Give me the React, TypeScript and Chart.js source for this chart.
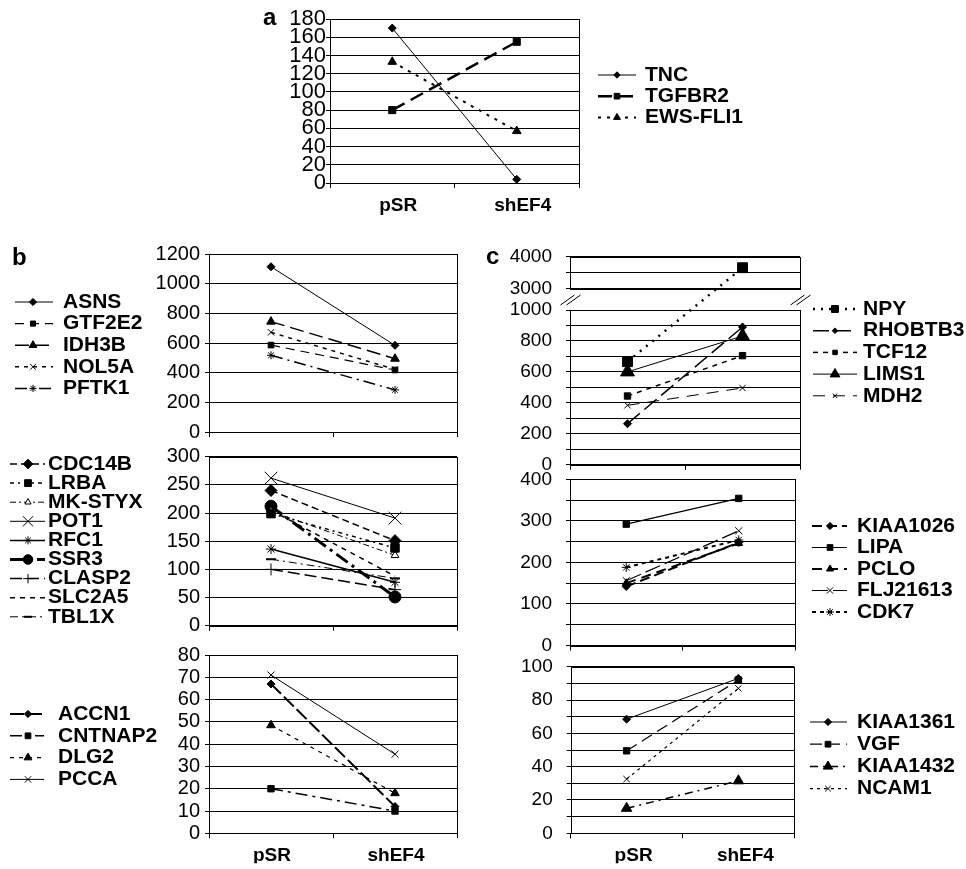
import React, { useEffect, useRef } from 'react';
import { Chart, registerables, LinearScale } from 'chart.js';

Chart.register(...registerables);

const W = 966;
const H = 869;
const FONT = "'Liberation Sans', Arial, Helvetica, sans-serif";

// ---------------- data ----------------
const CATEGORIES = ['pSR', 'shEF4'];

// panel a
const TNC = [170, 4];
const TGFBR2 = [80, 155];
const EWS_FLI1 = [133, 57];

// panel b (top)
const ASNS = [1114, 584];
const GTF2E2 = [586, 418];
const IDH3B = [744, 494];
const NOL5A = [672, 422];
const PFTK1 = [517, 284];

// panel b (middle)
const CDC14B = [240, 151];
const LRBA = [199, 138];
const MK_STYX = [203, 125];
const POT1 = [262, 191];
const RFC1 = [136, 77];
const SSR3 = [212, 51];
const CLASP2 = [100, 64];
const SLC2A5 = [205, 88];
const TBL1X = [118, 84];

// panel b (bottom)
const ACCN1 = [67, 12];
const CNTNAP2 = [20, 10];
const DLG2 = [48.5, 18];
const PCCA = [71, 35.5];

// panel c (top, broken axis)
const NPY = [666, 3650];
const RHOBTB3 = [265, 890];
const TCF12 = [444, 705];
const LIMS1 = [600, 832];
const MDH2 = [384, 496];

// panel c (middle)
const KIAA1026 = [142, 248];
const LIPA = [292, 354];
const PCLO = [150, 246];
const FLJ21613 = [156, 276];
const CDK7 = [188, 254];

// panel c (bottom)
const KIAA1361 = [68.5, 93];
const VGF = [49.5, 92];
const KIAA1432 = [15, 31.5];
const NCAM1 = [32.5, 87];

// tick values / labels
const C1_TICK_VALUES = [0, 100, 200, 300, 400, 500, 600, 700, 800, 900, 1000, 3000, 3500, 4000];
const C1_TICK_LABELS = [0, 200, 400, 600, 800, 1000, 3000, 4000];
const C2_TICK_LABELS = [0, 100, 200, 300, 400];
const C3_TICK_LABELS = [0, 20, 40, 60, 80, 100];

// ---------------- broken linear scale ----------------
class BrokenScale extends LinearScale {
  getPixelForValue(value: number) {
    const o: any = (this.options as any).brk;
    const top = this.top;
    const bottom = this.bottom;
    const h = bottom - top;
    const yHiBot = top + h * o.hiFrac;
    const yLoTop = top + h * o.loFrac;
    if (value >= o.hiMin) return top + ((o.max - value) / (o.max - o.hiMin)) * (yHiBot - top);
    if (value <= o.loMax) return yLoTop + ((o.loMax - value) / (o.loMax - o.min)) * (bottom - yLoTop);
    return yLoTop + ((value - o.loMax) / (o.hiMin - o.loMax)) * (yHiBot - yLoTop);
  }
  getValueForPixel(pixel: number) {
    const o: any = (this.options as any).brk;
    const top = this.top;
    const bottom = this.bottom;
    const h = bottom - top;
    const yHiBot = top + h * o.hiFrac;
    const yLoTop = top + h * o.loFrac;
    if (pixel <= yHiBot) return o.max - ((pixel - top) / (yHiBot - top)) * (o.max - o.hiMin);
    if (pixel >= yLoTop) return o.loMax - ((pixel - yLoTop) / (bottom - yLoTop)) * (o.loMax - o.min);
    return o.loMax + ((yLoTop - pixel) / (yLoTop - yHiBot)) * (o.hiMin - o.loMax);
  }
}
(BrokenScale as any).id = 'brokenLinear';
(BrokenScale as any).defaults = { ticks: { callback: (v: any) => String(v) } };
Chart.register(BrokenScale as any);

// ---------------- marker drawing (legend) ----------------
function drawMarker(ctx: CanvasRenderingContext2D, style: string, x: number, y: number, r: number, fill: string, lw: number) {
  if (!r || r <= 0) return;
  ctx.save();
  ctx.setLineDash([]);
  ctx.lineWidth = lw;
  ctx.strokeStyle = '#000';
  ctx.fillStyle = fill;
  ctx.beginPath();
  const s = r * Math.SQRT1_2;
  switch (style) {
    case 'circle':
      ctx.arc(x, y, r, 0, Math.PI * 2);
      ctx.fill();
      ctx.stroke();
      break;
    case 'rect':
      ctx.rect(x - s, y - s, 2 * s, 2 * s);
      ctx.fill();
      ctx.stroke();
      break;
    case 'rectRot':
      ctx.moveTo(x, y - r);
      ctx.lineTo(x + r, y);
      ctx.lineTo(x, y + r);
      ctx.lineTo(x - r, y);
      ctx.closePath();
      ctx.fill();
      ctx.stroke();
      break;
    case 'triangle': {
      const a = (2 * Math.PI) / 3;
      ctx.moveTo(x, y - r);
      ctx.lineTo(x + Math.sin(a) * r, y - Math.cos(a) * r);
      ctx.lineTo(x + Math.sin(2 * a) * r, y - Math.cos(2 * a) * r);
      ctx.closePath();
      ctx.fill();
      ctx.stroke();
      break;
    }
    case 'crossRot':
      ctx.moveTo(x - s, y - s);
      ctx.lineTo(x + s, y + s);
      ctx.moveTo(x + s, y - s);
      ctx.lineTo(x - s, y + s);
      ctx.stroke();
      break;
    case 'cross':
      ctx.moveTo(x, y - r);
      ctx.lineTo(x, y + r);
      ctx.moveTo(x - r, y);
      ctx.lineTo(x + r, y);
      ctx.stroke();
      break;
    case 'star':
      ctx.moveTo(x, y - r);
      ctx.lineTo(x, y + r);
      ctx.moveTo(x - r, y);
      ctx.lineTo(x + r, y);
      ctx.moveTo(x - s, y - s);
      ctx.lineTo(x + s, y + s);
      ctx.moveTo(x + s, y - s);
      ctx.lineTo(x - s, y + s);
      ctx.stroke();
      break;
    case 'line':
      ctx.moveTo(x - r, y);
      ctx.lineTo(x + r, y);
      ctx.stroke();
      break;
    default:
      break;
  }
  ctx.restore();
}

// ---------------- decoration plugin: box, legend, letters ----------------
const decoPlugin = {
  id: 'panelDeco',
  afterDatasetsDraw(chart: any, _args: any, opts: any) {
    const ctx: CanvasRenderingContext2D = chart.ctx;
    const a = chart.chartArea;
    ctx.save();
    ctx.strokeStyle = '#000';
    ctx.lineWidth = 1;
    ctx.setLineDash([]);
    const L = Math.round(a.left) + 0.5;
    const R = Math.round(a.right) + 0.5;
    const T = Math.round(a.top) + 0.5;
    const B = Math.round(a.bottom) + 0.5;
    if (opts.broken) {
      const ys = chart.scales.y;
      const yHi = Math.round(ys.getPixelForValue(opts.hiMin)) + 0.5;
      const yLo = Math.round(ys.getPixelForValue(opts.loMax)) + 0.5;
      ctx.strokeRect(L, T, R - L, yHi - T);
      ctx.strokeRect(L, yLo, R - L, B - yLo);
      const yb = (yHi + yLo) / 2;
      for (const bx of [L, R]) {
        for (const dx of [-3, 3]) {
          ctx.beginPath();
          ctx.moveTo(bx + dx - 7, yb + 5);
          ctx.lineTo(bx + dx + 7, yb - 5);
          ctx.stroke();
        }
      }
    } else {
      ctx.strokeRect(L, T, R - L, B - T);
    }
    const lg = opts.legend;
    if (lg) {
      chart.data.datasets.forEach((ds: any, i: number) => {
        const y = lg.y0 + i * lg.dy;
        ctx.save();
        ctx.strokeStyle = '#000';
        ctx.lineWidth = ds.borderWidth;
        ctx.setLineDash(ds.borderDash || []);
        ctx.beginPath();
        ctx.moveTo(lg.x1, y);
        ctx.lineTo(lg.x2, y);
        ctx.stroke();
        ctx.restore();
        drawMarker(ctx, ds.pointStyle, lg.xm, y, ds.pointRadius * lg.scale, ds.pointBackgroundColor, ds.pointBorderWidth);
        ctx.fillStyle = '#000';
        ctx.font = `bold ${lg.size}px ${FONT}`;
        ctx.textBaseline = 'middle';
        ctx.textAlign = 'left';
        ctx.fillText(ds.label, lg.xt, y);
      });
    }
    (opts.texts || []).forEach((t: any) => {
      ctx.fillStyle = '#000';
      ctx.font = `bold ${t.size}px ${FONT}`;
      ctx.textBaseline = 'alphabetic';
      ctx.textAlign = 'left';
      ctx.fillText(t.t, t.x, t.y);
    });
    ctx.restore();
  },
};

// ---------------- panel definitions ----------------
type SeriesDef = { label: string; data: number[]; style: string; r: number; dash: number[]; w: number; fill?: string; pw?: number };
type PanelDef = {
  area: { l: number; t: number; r: number; b: number };
  y: { min: number; max: number; step: number; font: number; pad: number; labels?: number[]; values?: number[]; broken?: any };
  xLabels: boolean;
  xPad: number;
  xShift: number;
  xh: number;
  legend: { x1: number; x2: number; xm: number; xt: number; y0: number; dy: number; size: number; scale: number };
  texts?: { t: string; x: number; y: number; size: number }[];
  series: SeriesDef[];
};

const LEG_SIZE = 21;

const PANELS: PanelDef[] = [
  {
    area: { l: 330, t: 19, r: 579, b: 183 },
    y: { min: 0, max: 180, step: 20, font: 22, pad: 0 },
    xLabels: true, xPad: 6, xShift: 6, xh: 36,
    legend: { x1: 598, x2: 636, xm: 617, xt: 645, y0: 75, dy: 21.2, size: LEG_SIZE, scale: 0.8 },
    texts: [{ t: 'a', x: 263, y: 25, size: 24 }],
    series: [
      { label: 'TNC', data: TNC, style: 'rectRot', r: 4, dash: [], w: 1 },
      { label: 'TGFBR2', data: TGFBR2, style: 'rect', r: 5, dash: [14, 7], w: 2.5 },
      { label: 'EWS-FLI1', data: EWS_FLI1, style: 'triangle', r: 5, dash: [3, 6], w: 2 },
    ],
  },
  {
    area: { l: 209, t: 254, r: 457, b: 432 },
    y: { min: 0, max: 1200, step: 200, font: 20, pad: 5 },
    xLabels: false, xPad: 0, xShift: 0, xh: 8,
    legend: { x1: 15, x2: 53, xm: 33, xt: 63, y0: 302, dy: 21.6, size: LEG_SIZE, scale: 0.9 },
    texts: [{ t: 'b', x: 12, y: 265, size: 24 }],
    series: [
      { label: 'ASNS', data: ASNS, style: 'rectRot', r: 4, dash: [], w: 1 },
      { label: 'GTF2E2', data: GTF2E2, style: 'rect', r: 4, dash: [9, 6], w: 1.2 },
      { label: 'IDH3B', data: IDH3B, style: 'triangle', r: 5, dash: [14, 6], w: 1.5 },
      { label: 'NOL5A', data: NOL5A, style: 'crossRot', r: 4.5, dash: [4, 5], w: 1.5 },
      { label: 'PFTK1', data: PFTK1, style: 'star', r: 4, dash: [12, 5, 2, 5], w: 1.5 },
    ],
  },
  {
    area: { l: 209, t: 456.7, r: 457, b: 625.7 },
    y: { min: 0, max: 300, step: 50, font: 20, pad: 5 },
    xLabels: false, xPad: 0, xShift: 0, xh: 8,
    legend: { x1: 10, x2: 45, xm: 28, xt: 48, y0: 464, dy: 19.1, size: LEG_SIZE, scale: 0.8 },
    series: [
      { label: 'CDC14B', data: CDC14B, style: 'rectRot', r: 6, dash: [7, 4], w: 1.5 },
      { label: 'LRBA', data: LRBA, style: 'rect', r: 6, dash: [4, 4, 2, 4], w: 1.5 },
      { label: 'MK-STYX', data: MK_STYX, style: 'triangle', r: 4.5, dash: [6, 3, 2, 3], w: 1, fill: '#fff' },
      { label: 'POT1', data: POT1, style: 'crossRot', r: 9, dash: [], w: 1 },
      { label: 'RFC1', data: RFC1, style: 'star', r: 5, dash: [], w: 1.5 },
      { label: 'SSR3', data: SSR3, style: 'circle', r: 6, dash: [14, 5, 3, 5], w: 3 },
      { label: 'CLASP2', data: CLASP2, style: 'cross', r: 6, dash: [12, 5], w: 1.5 },
      { label: 'SLC2A5', data: SLC2A5, style: 'circle', r: 0, dash: [5, 5], w: 1.5 },
      { label: 'TBL1X', data: TBL1X, style: 'line', r: 5, dash: [8, 4, 2, 4], w: 1, pw: 2 },
    ],
  },
  {
    area: { l: 209, t: 655, r: 457, b: 833.3 },
    y: { min: 0, max: 80, step: 10, font: 20, pad: 5 },
    xLabels: true, xPad: 6, xShift: 1, xh: 30,
    legend: { x1: 10, x2: 44, xm: 28, xt: 58, y0: 714, dy: 21.8, size: LEG_SIZE, scale: 0.9 },
    series: [
      { label: 'ACCN1', data: ACCN1, style: 'rectRot', r: 4, dash: [14, 4], w: 2 },
      { label: 'CNTNAP2', data: CNTNAP2, style: 'rect', r: 4.5, dash: [12, 5, 3, 5], w: 1.5 },
      { label: 'DLG2', data: DLG2, style: 'triangle', r: 5, dash: [4, 5], w: 1.2 },
      { label: 'PCCA', data: PCCA, style: 'crossRot', r: 5, dash: [], w: 1 },
    ],
  },
  {
    area: { l: 570, t: 256.5, r: 800, b: 464.7 },
    y: {
      min: 0, max: 4000, step: 500, font: 19, pad: 14, labels: C1_TICK_LABELS, values: C1_TICK_VALUES,
      broken: { min: 0, max: 4000, loMax: 1000, hiMin: 3000, hiFrac: 0.1537, loFrac: 0.257 },
    },
    xLabels: false, xPad: 0, xShift: 0, xh: 8,
    legend: { x1: 813, x2: 857, xm: 835, xt: 863, y0: 309, dy: 21.7, size: LEG_SIZE, scale: 0.7 },
    texts: [{ t: 'c', x: 486, y: 264, size: 24 }],
    series: [
      { label: 'NPY', data: NPY, style: 'rect', r: 7, dash: [2, 6], w: 2.5 },
      { label: 'RHOBTB3', data: RHOBTB3, style: 'rectRot', r: 4, dash: [16, 6], w: 1.5 },
      { label: 'TCF12', data: TCF12, style: 'rect', r: 4.5, dash: [5, 5], w: 1.5 },
      { label: 'LIMS1', data: LIMS1, style: 'triangle', r: 8, dash: [], w: 1 },
      { label: 'MDH2', data: MDH2, style: 'crossRot', r: 4.5, dash: [12, 8], w: 1 },
    ],
  },
  {
    area: { l: 570, t: 479.3, r: 795, b: 645.5 },
    y: { min: 0, max: 400, step: 50, font: 19, pad: 14, labels: C2_TICK_LABELS },
    xLabels: false, xPad: 0, xShift: 0, xh: 8,
    legend: { x1: 812, x2: 847, xm: 830, xt: 857, y0: 526, dy: 21.5, size: LEG_SIZE, scale: 0.9 },
    series: [
      { label: 'KIAA1026', data: KIAA1026, style: 'rectRot', r: 4, dash: [10, 5], w: 2 },
      { label: 'LIPA', data: LIPA, style: 'rect', r: 4.5, dash: [], w: 1.2 },
      { label: 'PCLO', data: PCLO, style: 'triangle', r: 4.5, dash: [10, 6], w: 2 },
      { label: 'FLJ21613', data: FLJ21613, style: 'crossRot', r: 5, dash: [16, 5], w: 1.2 },
      { label: 'CDK7', data: CDK7, style: 'star', r: 4.5, dash: [4, 4], w: 2 },
    ],
  },
  {
    area: { l: 570.7, t: 666.7, r: 794.3, b: 833.3 },
    y: { min: 0, max: 100, step: 10, font: 19, pad: 14, labels: C3_TICK_LABELS },
    xLabels: true, xPad: 6, xShift: 7, xh: 30,
    legend: { x1: 810, x2: 847, xm: 828, xt: 857, y0: 722, dy: 22.2, size: LEG_SIZE, scale: 0.9 },
    series: [
      { label: 'KIAA1361', data: KIAA1361, style: 'rectRot', r: 4, dash: [], w: 1 },
      { label: 'VGF', data: VGF, style: 'rect', r: 4.5, dash: [12, 6], w: 1.2 },
      { label: 'KIAA1432', data: KIAA1432, style: 'triangle', r: 6, dash: [8, 5, 2, 5], w: 1.5 },
      { label: 'NCAM1', data: NCAM1, style: 'crossRot', r: 4.5, dash: [3, 4], w: 1.2 },
    ],
  },
];

const Y_AXIS_W = 60;
const Y_TICK_LEN = 4;

function buildConfig(p: PanelDef): any {
  const yOpts: any = {
    type: p.y.broken ? 'brokenLinear' : 'linear',
    min: p.y.min,
    max: p.y.max,
    ticks: {
      stepSize: p.y.step,
      autoSkip: false,
      color: '#000',
      padding: p.y.pad,
      font: { family: FONT, size: p.y.font, weight: 'normal' },
      callback: (v: any) => (p.y.labels ? (p.y.labels.includes(Number(v)) ? String(v) : '') : String(v)),
    },
    grid: { color: '#000', lineWidth: 1, drawTicks: true, tickLength: Y_TICK_LEN, drawOnChartArea: true },
    border: { display: false },
    afterFit: (s: any) => {
      s.width = Y_AXIS_W;
    },
  };
  if (p.y.values) {
    const vals = p.y.values;
    yOpts.afterBuildTicks = (s: any) => {
      s.ticks = vals.map((v) => ({ value: v }));
    };
  }
  if (p.y.broken) yOpts.brk = p.y.broken;

  return {
    type: 'line',
    data: {
      labels: CATEGORIES,
      datasets: p.series.map((s) => ({
        label: s.label,
        data: s.data,
        borderColor: '#000',
        borderWidth: s.w,
        borderDash: s.dash,
        pointStyle: s.style,
        pointRadius: s.r,
        pointHoverRadius: s.r,
        pointBackgroundColor: s.fill ?? '#000',
        pointBorderColor: '#000',
        pointBorderWidth: s.pw ?? 1,
        fill: false,
        tension: 0,
        clip: false,
      })),
    },
    options: {
      responsive: false,
      animation: false,
      devicePixelRatio: 1,
      events: [],
      layout: {
        padding: {
          left: p.area.l - Y_AXIS_W,
          top: p.area.t,
          right: W - p.area.r,
          bottom: Math.max(0, H - p.area.b - p.xh),
        },
      },
      plugins: {
        legend: { display: false },
        tooltip: { enabled: false },
        panelDeco: {
          broken: !!p.y.broken,
          hiMin: p.y.broken ? p.y.broken.hiMin : 0,
          loMax: p.y.broken ? p.y.broken.loMax : 0,
          legend: p.legend,
          texts: p.texts || [],
        },
      },
      scales: {
        x: {
          type: 'category',
          offset: true,
          grid: { offset: true, drawOnChartArea: false, drawTicks: true, tickLength: 5, color: '#000', lineWidth: 1 },
          border: { display: false },
          ticks: {
            display: p.xLabels,
            color: '#000',
            padding: p.xPad,
            labelOffset: p.xShift,
            maxRotation: 0,
            autoSkip: false,
            font: { family: FONT, size: 19, weight: 'bold' },
          },
          afterFit: (s: any) => {
            s.height = p.xh;
          },
        },
        y: yOpts,
      },
    },
    plugins: [decoPlugin],
  };
}

function PanelCanvas({ def }: { def: PanelDef }) {
  const ref = useRef<HTMLCanvasElement>(null);
  useEffect(() => {
    if (!ref.current) return;
    const chart = new Chart(ref.current, buildConfig(def));
    return () => chart.destroy();
  }, [def]);
  return (
    <canvas
      ref={ref}
      width={W}
      height={H}
      style={{ position: 'absolute', left: 0, top: 0, width: W, height: H }}
    />
  );
}

export default function App() {
  return (
    <div style={{ position: 'absolute', left: 0, top: 0, width: W, height: H, background: '#fff', overflow: 'hidden' }}>
      {PANELS.map((p, i) => (
        <PanelCanvas key={i} def={p} />
      ))}
    </div>
  );
}
